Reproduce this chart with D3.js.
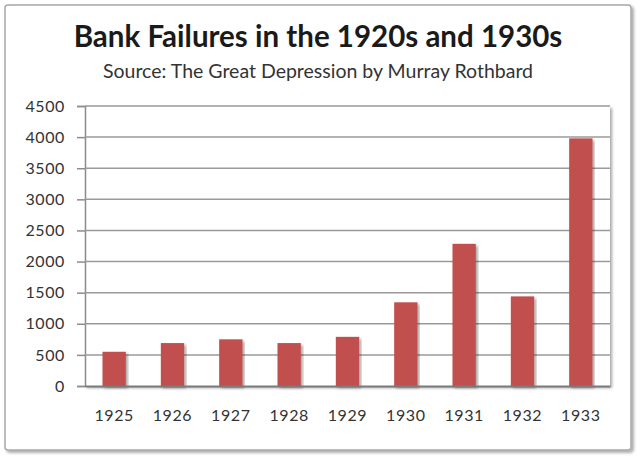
<!DOCTYPE html>
<html>
<head>
<meta charset="utf-8">
<script src="https://cdn.jsdelivr.net/npm/d3@7"></script>
<style>
  body { margin: 0; background: #fff; }
  svg { display: block; }
</style>
</head>
<body>
<div class="chart"></div>
<script>
let years = ["1925", "1926", "1927", "1928", "1929", "1930", "1931", "1932", "1933"]
let failures = [550, 690, 750, 690, 790, 1345, 2285, 1440, 3980]
let yTicks = [0, 500, 1000, 1500, 2000, 2500, 3000, 3500, 4000, 4500]

let width = 640
let height = 458
let margin = { top: 106, right: 30, bottom: 72, left: 85 }
let font = "Lato, 'Open Sans', sans-serif"

let svg = d3.select(".chart")
  .append("svg")
  .attr("width", width)
  .attr("height", height)

let defs = svg.append("defs")
let shadow = defs.append("filter").attr("id", "shadow")
  .attr("x", "-5%").attr("y", "-5%").attr("width", "115%").attr("height", "115%")
shadow.append("feDropShadow")
  .attr("dx", 2).attr("dy", 2).attr("stdDeviation", 1.5)
  .attr("flood-color", "#000").attr("flood-opacity", 0.35)

// outer frame
svg.append("rect")
  .attr("x", 5).attr("y", 5)
  .attr("width", 626).attr("height", 445)
  .attr("rx", 3)
  .attr("fill", "#fff")
  .attr("stroke", "#a8a8a8")
  .attr("stroke-width", 1.5)
  .attr("filter", "url(#shadow)")

svg.append("text")
  .attr("x", 318).attr("y", 47)
  .attr("text-anchor", "middle")
  .attr("font-family", font)
  .attr("font-weight", "bold")
  .attr("font-size", 29.5)
  .attr("fill", "#1a1a1a")
  .text("Bank Failures in the 1920s and 1930s")

svg.append("text")
  .attr("x", 318).attr("y", 78)
  .attr("text-anchor", "middle")
  .attr("font-family", font)
  .attr("font-size", 19.5)
  .attr("fill", "#333")
  .text("Source: The Great Depression by Murray Rothbard")

let x = d3.scaleBand()
  .domain(years)
  .range([margin.left, width - margin.right])
  .paddingInner(0.6)
  .paddingOuter(0.3)

let y = d3.scaleLinear()
  .domain([0, 4500])
  .range([height - margin.bottom, margin.top])

// plot area with a soft shadow at right
svg.append("rect")
  .attr("x", margin.left).attr("y", margin.top)
  .attr("width", width - margin.right - margin.left)
  .attr("height", height - margin.bottom - margin.top)
  .attr("fill", "#fff")
  .attr("filter", "url(#shadow)")

let yAxis = svg.append("g")
  .attr("transform", `translate(${margin.left},0)`)
  .call(d3.axisLeft(y).tickValues(yTicks).tickFormat(d3.format("d")).tickSize(8).tickPadding(12))

yAxis.select(".domain").attr("stroke", "#8c8c8c").attr("stroke-width", 1.5)
yAxis.selectAll(".tick line").attr("stroke", "#8c8c8c").attr("stroke-width", 1.5)
yAxis.selectAll(".tick text")
  .attr("font-family", font)
  .attr("font-size", 16)
  .attr("letter-spacing", 0.6)
  .attr("fill", "#333")

// gridlines
svg.append("g")
  .selectAll("line")
  .data(yTicks.filter(d => d > 0))
  .enter()
  .append("line")
  .attr("x1", margin.left)
  .attr("x2", width - margin.right)
  .attr("y1", d => y(d))
  .attr("y2", d => y(d))
  .attr("stroke", "#9a9a9a")
  .attr("stroke-width", 1.5)

svg.append("g")
  .selectAll("rect")
  .data(failures)
  .enter()
  .append("rect")
  .attr("x", (d, i) => x(years[i]))
  .attr("y", d => y(d))
  .attr("width", x.bandwidth())
  .attr("height", d => y(0) - y(d))
  .attr("fill", "#c0504d")
  .attr("filter", "url(#shadow)")

let xAxis = svg.append("g")
  .attr("transform", `translate(0,${height - margin.bottom})`)
  .call(d3.axisBottom(x).tickSize(0).tickPadding(24))

xAxis.select(".domain").attr("stroke", "#7a7a7a").attr("stroke-width", 2)
xAxis.selectAll(".tick text")
  .attr("font-family", font)
  .attr("font-size", 16)
  .attr("letter-spacing", 0.6)
  .attr("fill", "#333")
</script>
</body>
</html>
